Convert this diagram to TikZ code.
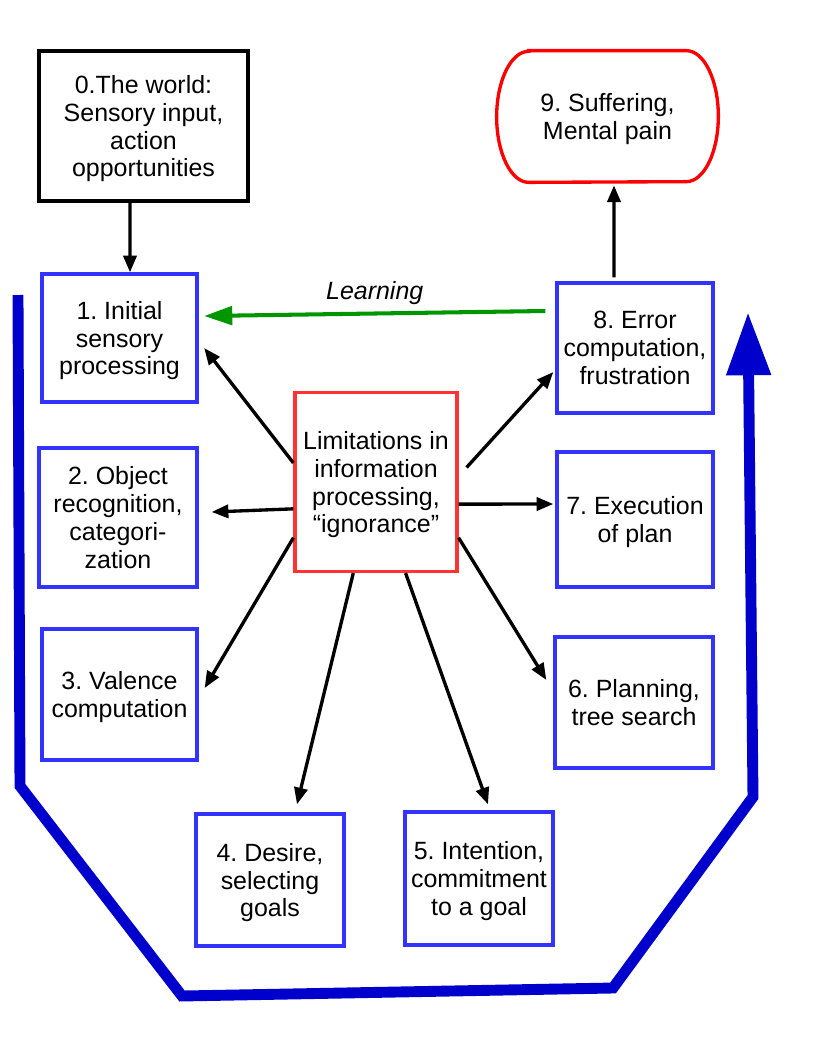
\documentclass[tikz,border=0pt]{standalone}
\usepackage{fontspec}
\setmainfont{Liberation Sans}
\usetikzlibrary{arrows.meta, calc}
\frenchspacing

\definecolor{boxblue}{RGB}{51,51,255}
\definecolor{loopblue}{RGB}{0,0,204}
\definecolor{limred}{RGB}{255,51,51}
\definecolor{learngreen}{RGB}{0,150,0}

\begin{document}
\begin{tikzpicture}[x=0.2mm, y=-0.2mm, >={Triangle[length=9.5pt,width=7.5pt]},
	font=\fontsize{14.2}{15.9}\selectfont,
	every node/.style={text depth=0pt},
	stage/.style={draw=boxblue, line width=1.9pt, align=center, inner sep=0pt,
		minimum width=3.12cm, minimum height=2.62cm},
	flow/.style={->, line width=1.9pt}]
\useasboundingbox (0,0) rectangle (827,1063);
%========================
% top: world and suffering
%========================
\node[draw, line width=2.3pt, align=center, minimum width=4.18cm, minimum height=3cm] (w) at (143.5,126) {0.The world:\\Sensory input,\\action\\opportunities};

\node[align=center, minimum width=4.42cm, minimum height=2.62cm] (pain) at (607.5,116.5) {9. Suffering,\\Mental pain};
% red outline with elliptic ends
\draw[red, line width=1.9pt]
	($(pain.north west)+(32,0)$) -- ($(pain.north east)+(-32,0)$)
	arc[start angle=90, end angle=-90, x radius=0.64cm, y radius=1.31cm]
	-- ($(pain.south west)+(32,0)$)
	arc[start angle=270, end angle=90, x radius=0.64cm, y radius=1.31cm] -- cycle;

%========================
% stages round the centre
%========================
\node[stage, minimum width=3.1cm, minimum height=2.56cm] (b1) at (119.5,338) {1. Initial\\sensory\\processing};
\node[stage, minimum width=3.16cm, minimum height=2.78cm] (b2) at (118,517.5) {2. Object\\recognition,\\categori-\\zation};
\node[stage, minimum width=3.1cm] (b3) at (119.5,694.5) {3. Valence\\computation};
\node[stage, minimum width=2.96cm, minimum height=2.64cm] (b4) at (270,880) {4. Desire,\\selecting\\goals};
\node[stage, minimum width=2.96cm, minimum height=2.66cm] (b5) at (479,878.5) {5. Intention,\\commitment\\to a goal};
\node[stage, minimum width=3.16cm] (b6) at (634,702.5) {6. Planning,\\tree search};
\node[stage, minimum height=2.7cm] (b7) at (635,519.5) {7. Execution\\of plan};
\node[stage, minimum height=2.6cm] (b8) at (635,348) {8. Error\\computation,\\frustration};

\node[draw=limred, line width=1.8pt, align=center, inner sep=0pt, minimum width=3.24cm, minimum height=3.58cm] (lim) at (376,482) {Limitations in\\information\\processing,\\“ignorance”};

% world in, suffering out
\draw[flow] ($(w.south)+(-13.5,0)$) -- ($(b1.north)+(10.5,0)$);
\draw[flow] ($(b8.north)+(-21,-4)$) -- ($(pain.south)+(6.5,3)$);

% learning feedback
\draw[->, learngreen, line width=2.3pt, >={Triangle[length=16pt,width=10.5pt]}]
	($(b8.west)+(-10,-37)$) -- node[midway, above=3.5pt, black, font=\fontsize{14.2}{15.9}\selectfont\itshape] {Learning}
	($(b1.east)+(5.5,-22)$);

% limitations act on every stage
\draw[flow] (lim.167) -- ($(b1.east)+(5.5,10)$);
\draw[flow] (lim.198) -- ($(b2.east)+(13,-5.5)$);
\draw[flow] (lim.214) -- ($(b3.east)+(6,-6.5)$);
\draw[flow] (lim.256) -- ($(b4.north)+(27,-8)$);
\draw[flow] (lim.288) -- ($(b5.north)+(9,-6)$);
\draw[flow] (lim.326) -- ($(b6.west)+(-7,-22.5)$);
\draw[flow] (lim.345) -- ($(b7.west)+(-2,-15.5)$);
\draw[flow] ($(lim.10)+(8,0)$) -- ($(b8.west)+(-2,24)$);

% the big loop
\coordinate (loopA) at (18,295);
\coordinate (loopB) at (20,786);
\coordinate (loopC) at (182,996);
\coordinate (loopD) at (613,988);
\coordinate (loopE) at (753,797);
\coordinate (loopF) at (748,312);
\draw[loopblue, line width=6.2pt, -{Triangle[length=36pt,width=24pt]}]
	(loopA) -- (loopB) -- (loopC) -- (loopD) -- (loopE) -- (loopF);
\end{tikzpicture}
\end{document}
